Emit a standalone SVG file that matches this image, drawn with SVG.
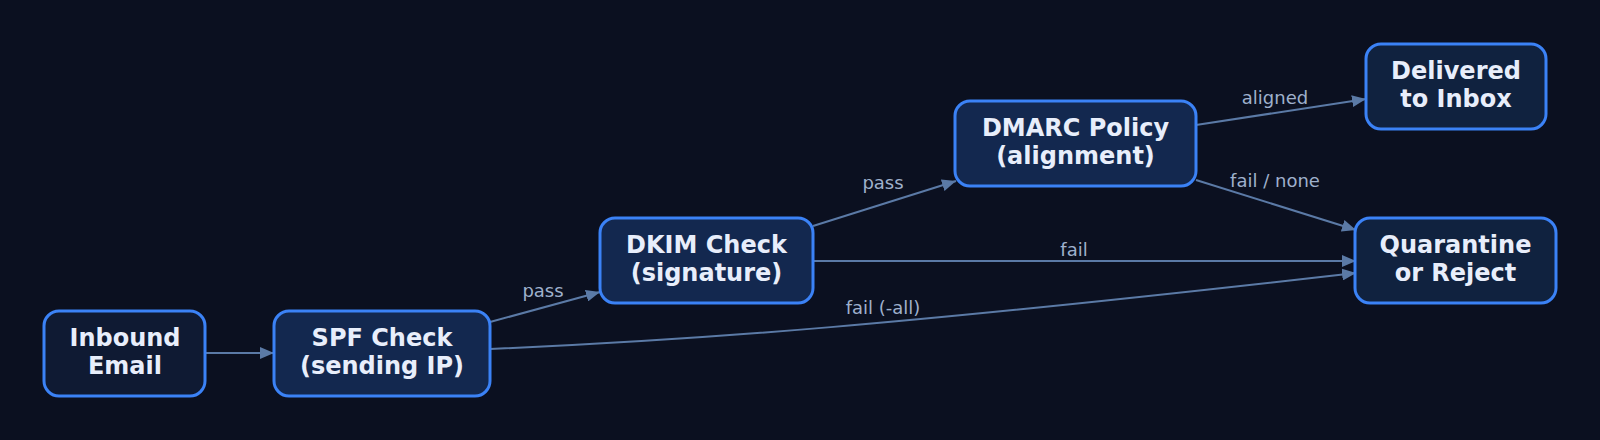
<svg xmlns="http://www.w3.org/2000/svg" width="1600" height="440" viewBox="0 0 1600 440">
<defs>
<style>
.node rect{stroke:#3b82f6;stroke-width:3}
.n0{fill:#0f1a33}
.n1{fill:#13284f}
.n2{fill:#10223f}
.nt{font-family:"DejaVu Sans",sans-serif;font-weight:bold;font-size:24px;fill:#e8eefb;text-anchor:middle}
.edge{fill:none;stroke:#5b7aa6;stroke-width:2}
.lbl{font-family:"DejaVu Sans",sans-serif;font-size:18px;fill:#9fb0cc;text-anchor:middle}
</style>
<marker id="ah" viewBox="0 0 14 12" refX="14" refY="6" markerWidth="14" markerHeight="12" markerUnits="userSpaceOnUse" orient="auto">
<path d="M0,0 L14,6 L0,12 Z" fill="#5b7aa6"/>
</marker>
</defs>
<rect width="1600" height="440" fill="#0b1020"/>
<g id="connectors">
<path class="edge" d="M206,353 L274,353" marker-end="url(#ah)"/>
<path class="edge" d="M490,322 L600,292" marker-end="url(#ah)"/>
<path class="edge" d="M490,349 C700,340 900,325 1356,273" marker-end="url(#ah)"/>
<path class="edge" d="M813,226 L956,181" marker-end="url(#ah)"/>
<path class="edge" d="M813,261 L1356,261" marker-end="url(#ah)"/>
<path class="edge" d="M1196,125 L1366,99" marker-end="url(#ah)"/>
<path class="edge" d="M1196,180 L1356,230" marker-end="url(#ah)"/>
<text class="lbl" x="543" y="297">pass</text>
<text class="lbl" x="883" y="189">pass</text>
<text class="lbl" x="1074" y="256">fail</text>
<text class="lbl" x="883" y="314">fail (-all)</text>
<text class="lbl" x="1275" y="104">aligned</text>
<text class="lbl" x="1275" y="187">fail / none</text>
</g>
<g id="inbound" class="node">
<rect class="n0" x="44" y="311" width="161" height="85" rx="15"/>
<text class="nt" x="125" y="346">Inbound</text>
<text class="nt" x="125" y="374">Email</text>
</g>
<g id="spf" class="node">
<rect class="n1" x="274" y="311" width="216" height="85" rx="15"/>
<text class="nt" x="382" y="346">SPF Check</text>
<text class="nt" x="382" y="374">(sending IP)</text>
</g>
<g id="dkim" class="node">
<rect class="n1" x="600" y="218" width="213" height="85" rx="15"/>
<text class="nt" x="706.5" y="253">DKIM Check</text>
<text class="nt" x="706.5" y="281">(signature)</text>
</g>
<g id="dmarc" class="node">
<rect class="n1" x="955" y="101" width="241" height="85" rx="15"/>
<text class="nt" x="1075.5" y="136">DMARC Policy</text>
<text class="nt" x="1075.5" y="164">(alignment)</text>
</g>
<g id="delivered" class="node">
<rect class="n2" x="1366" y="44" width="180" height="85" rx="15"/>
<text class="nt" x="1456" y="79">Delivered</text>
<text class="nt" x="1456" y="107">to Inbox</text>
</g>
<g id="quarantine" class="node">
<rect class="n2" x="1355" y="218" width="201" height="85" rx="15"/>
<text class="nt" x="1455.5" y="253">Quarantine</text>
<text class="nt" x="1455.5" y="281">or Reject</text>
</g>
</svg>
